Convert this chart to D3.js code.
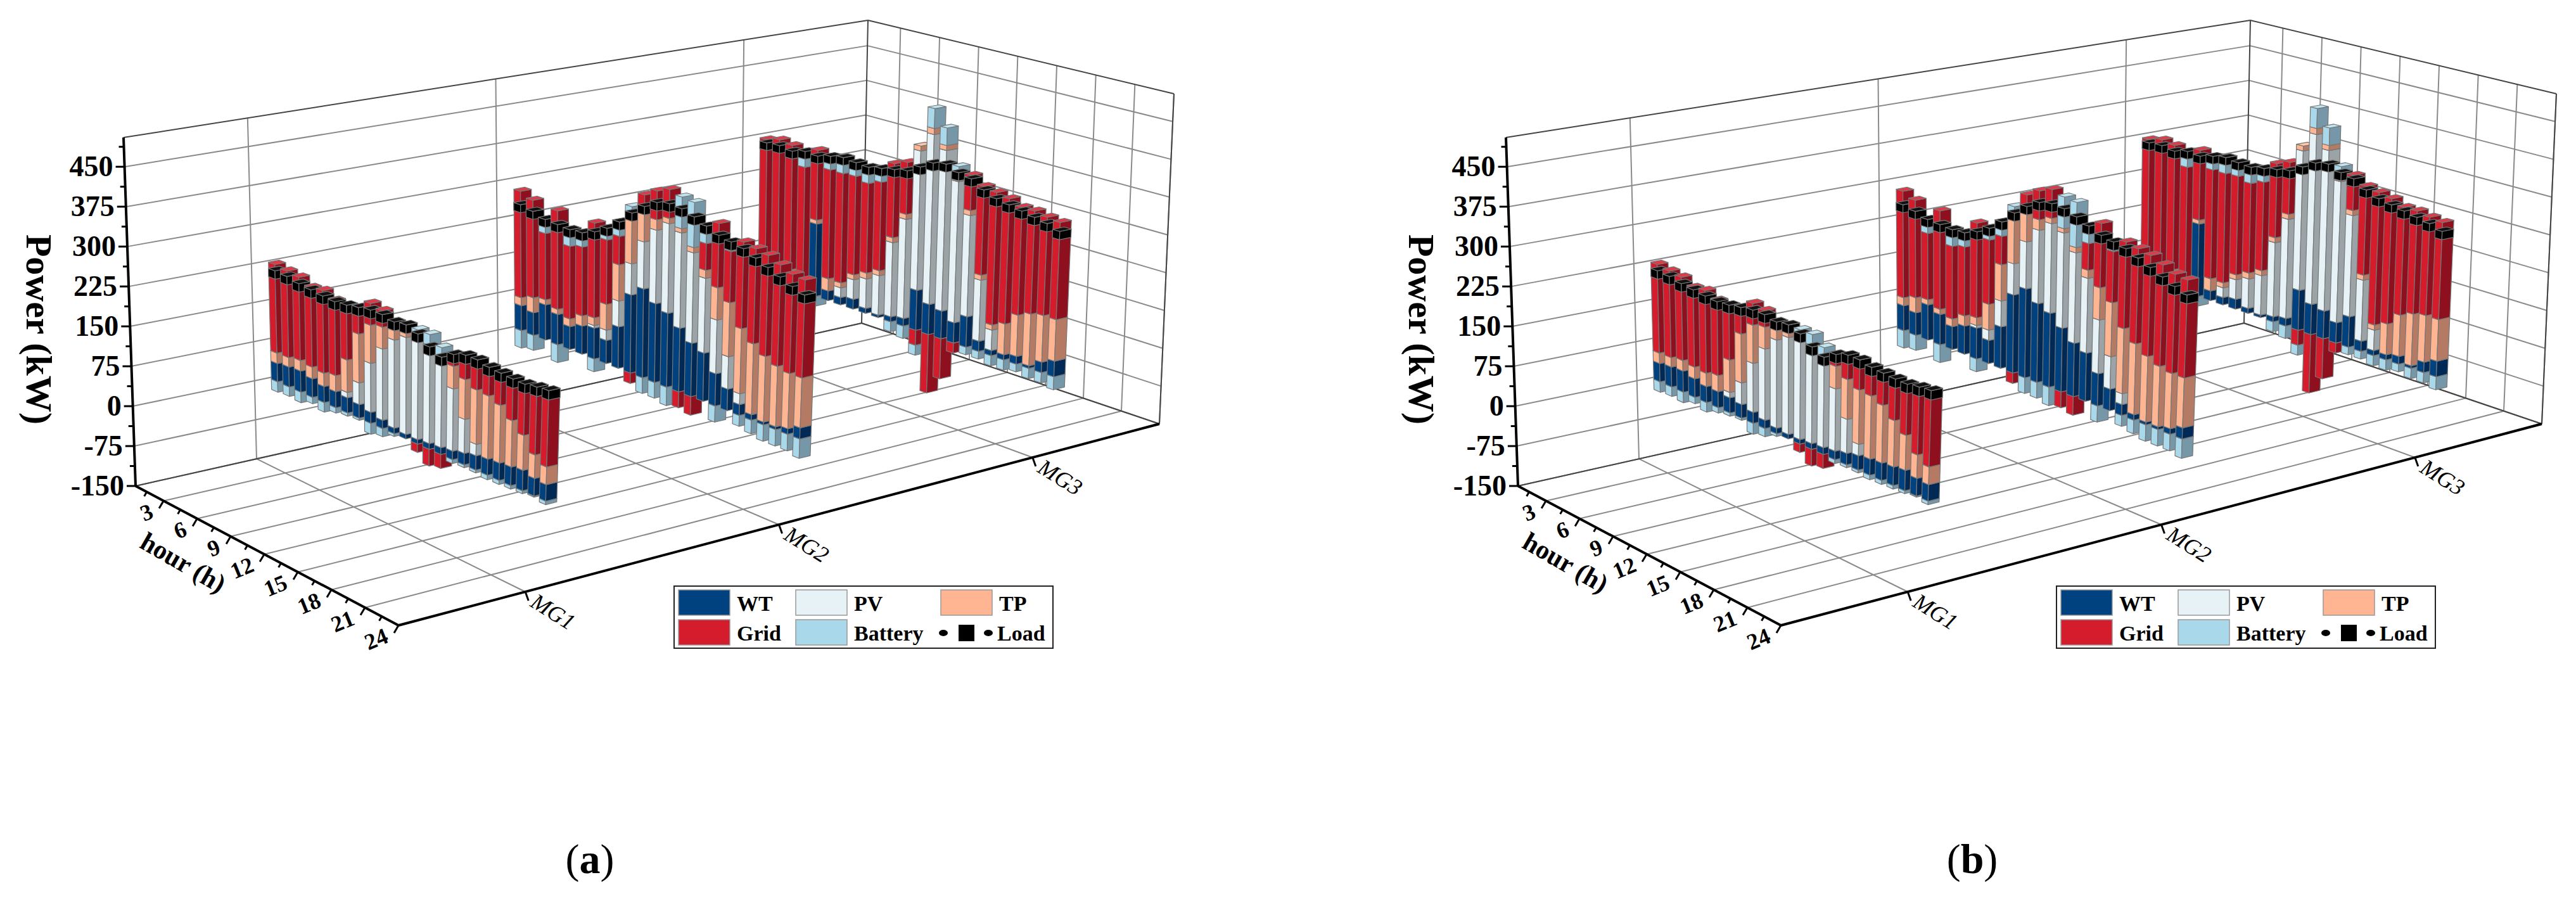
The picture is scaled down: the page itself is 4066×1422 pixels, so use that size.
<!doctype html>
<html lang="en">
  <head>
    <meta charset="UTF-8" />
    <title>3D stacked power dispatch of MG1-MG3</title>
    <script src="https://d3js.org/d3.v7.min.js"></script>
    <style>
      body { margin: 0; background: #fff; }
      text { font-family: 'Liberation Serif', 'Times New Roman', serif; }
    </style>
  </head>
  <body>
    <svg width="4066" height="1422"></svg>
    <script>
      // ---- data (kW) ----
      const hours = [1,2,3,4,5,6,7,8,9,10,11,12,13,14,15,16,17,18,19,20,21,22,23,24];
      const mgNames = ['MG1', 'MG2', 'MG3'];
      const hourTicks = [3, 6, 9, 12, 15, 18, 21, 24];
      const powerTicks = [-150, -75, 0, 75, 150, 225, 300, 375, 450];
      const panelLabels = ['a', 'b'];

      const wtMG1 = [35,38,40,35,30,30,28,25,20,15,10,8,8,10,12,15,20,25,28,30,32,35,30,28];
      const pvMG1 = [0,0,0,0,0,0,10,40,90,130,160,175,180,170,150,110,60,20,0,0,0,0,0,0];
      const tpMG1 = [20,18,20,22,25,30,60,90,70,40,20,10,5,5,10,40,70,95,110,100,80,60,40,30];
      const gridMG1 = [170,165,158,150,155,140,100,45,40,30,10,0,-15,-30,-25,20,40,50,50,55,70,85,110,128];
      const batMG1 = [-20,-18,-20,-12,-18,-10,-6,-4,-20,-15,-5,5,12,20,18,-7,-5,-5,-8,-7,-6,-5,-2,-6];
      const loadMG1 = [205,203,198,195,192,190,192,196,200,200,195,198,190,175,165,178,185,185,180,178,176,175,178,180];

      const wtMG2 = [50,45,70,60,45,55,60,45,80,150,170,150,140,120,100,90,60,40,20,10,5,5,10,20];
      const pvMG2 = [0,0,0,0,0,0,5,20,50,60,90,140,170,180,170,140,100,60,20,0,0,0,0,0];
      const tpMG2 = [16,30,10,10,15,20,15,50,70,90,60,20,10,8,10,15,60,100,120,130,120,110,100,90];
      const gridMG2 = [214,195,132,195,143,135,185,125,55,-20,30,55,55,-30,-35,50,120,95,160,175,185,185,180,177];
      const batMG2 = [-35,-30,20,-35,25,20,-25,15,20,20,-30,-30,-35,60,85,25,-30,10,-20,-25,-30,-30,-30,-35];
      const loadMG2 = [245,240,232,230,228,230,240,255,275,300,320,335,340,338,330,320,310,305,300,290,280,270,260,252];

      const wtMG3 = [5,10,8,12,150,20,15,20,10,5,10,15,80,60,55,40,60,20,10,10,15,5,20,30];
      const pvMG3 = [0,0,0,0,0,0,20,40,60,80,150,200,280,340,320,280,200,120,40,0,0,0,0,0];
      const tpMG3 = [10,10,30,8,8,25,10,10,12,10,10,10,10,12,10,10,10,10,10,60,80,100,90,80];
      const gridMG3 = [280,282,260,240,145,225,225,202,183,180,150,105,-30,-117,-80,-20,70,175,260,245,210,200,190,187];
      const batMG3 = [-15,-20,-20,25,-20,20,25,20,25,20,-20,-25,-20,40,35,20,-15,-15,-20,-20,-15,-20,-20,-25];
      const loadMG3 = [280,282,278,285,283,290,295,292,290,295,300,305,320,335,340,330,325,310,300,295,290,285,280,272];

      const seriesNames = ['WT', 'PV', 'TP', 'Grid', 'Battery'];
      const mgData = [
        { m: 1, WT: wtMG1, PV: pvMG1, TP: tpMG1, Grid: gridMG1, Battery: batMG1, Load: loadMG1 },
        { m: 2, WT: wtMG2, PV: pvMG2, TP: tpMG2, Grid: gridMG2, Battery: batMG2, Load: loadMG2 },
        { m: 3, WT: wtMG3, PV: pvMG3, TP: tpMG3, Grid: gridMG3, Battery: batMG3, Load: loadMG3 },
      ];

      // face colours: [left, right, top]
      const colors = {
        WT: ['#00427f', '#002a55', '#1a5690'],
        PV: ['#e6f2f5', '#9ba3a7', '#f2f9fa'],
        TP: ['#ffb592', '#b57a63', '#ffc6aa'],
        Grid: ['#d41c2c', '#8e0f1e', '#e03a48'],
        Battery: ['#a9d8ea', '#7597a8', '#c0e4f0'],
        Load: ['#000', '#000', '#111'],
      };

      const svg = d3.select('svg');

      const hScale = d3.scaleLinear().domain([0.5, 24]).range([0, 1]);
      const mScale = d3.scaleLinear().domain([0.5, 3.5]).range([0, 1]);
      const zScale = d3.scaleLinear().domain([-150, 505]).range([0, 1]);

      function drawPanel(dx, label) {
        const g = svg.append('g').attr('transform', `translate(${dx},0)`);

        // box corners: floor and top, [u][v]
        const F = { '00': [214, 767], '10': [629, 987], '11': [1830, 669], '01': [1360, 510] };
        const T = { '00': [195, 217], '10': [645, 360], '11': [1853, 148], '01': [1370, 32] };
        const bil = (C, u, v) => [0, 1].map(
          (k) => C['00'][k] * (1 - u) * (1 - v) + C['10'][k] * u * (1 - v) +
                 C['11'][k] * u * v + C['01'][k] * (1 - u) * v,
        );
        function proj(h, m, z) {
          const u = hScale(h), v = mScale(m), w = zScale(z);
          const a = bil(F, u, v), b = bil(T, u, v);
          return [a[0] + (b[0] - a[0]) * w, a[1] + (b[1] - a[1]) * w];
        }
        const line = (p, q) =>
          g.append('line').attr('x1', p[0]).attr('y1', p[1]).attr('x2', q[0]).attr('y2', q[1]);

        const h0 = 0.5, h1 = 24, m0 = 0.5, m1 = 3.5, z0 = -150, z1 = 505;
        const grey = '#8a8a8a';

        // back wall grid (hour = h0)
        powerTicks.forEach((z) => line(proj(h0, m0, z), proj(h0, m1, z)).attr('stroke', grey).attr('stroke-width', 2));
        [1, 2, 3].forEach((m) => line(proj(h0, m, z0), proj(h0, m, z1)).attr('stroke', grey).attr('stroke-width', 2));
        // right wall grid (MG = m1)
        powerTicks.forEach((z) => line(proj(h0, m1, z), proj(h1, m1, z)).attr('stroke', grey).attr('stroke-width', 2));
        hourTicks.forEach((h) => line(proj(h, m1, z0), proj(h, m1, z1)).attr('stroke', grey).attr('stroke-width', 2));
        // floor grid
        hourTicks.forEach((h) => line(proj(h, m0, z0), proj(h, m1, z0)).attr('stroke', grey).attr('stroke-width', 2));
        [1, 2, 3].forEach((m) => line(proj(h0, m, z0), proj(h1, m, z0)).attr('stroke', grey).attr('stroke-width', 2));
        // box edges
        [[proj(h0, m0, z1), proj(h0, m1, z1)], [proj(h0, m1, z1), proj(h1, m1, z1)],
         [proj(h0, m1, z0), proj(h0, m1, z1)], [proj(h1, m1, z0), proj(h1, m1, z1)],
         [proj(h0, m1, z0), proj(h1, m1, z0)], [proj(h0, m0, z0), proj(h0, m1, z0)]]
          .forEach(([p, q]) => line(p, q).attr('stroke', '#444').attr('stroke-width', 2));

        // bars
        const hw = 0.27, vw = 0.022, off = 0.08;
        function cuboid(h, m, za, zb, c, grow) {
          const ha = h - hw * grow, hb = h + hw * grow;
          const va = m + off - vw * grow, vb = m + off + vw * grow;
          const faces = [
            [[ha, va, za], [hb, va, za], [hb, va, zb], [ha, va, zb]],
            [[hb, va, za], [hb, vb, za], [hb, vb, zb], [hb, va, zb]],
            [[ha, va, zb], [hb, va, zb], [hb, vb, zb], [ha, vb, zb]],
          ];
          faces.forEach((f, i) => {
            g.append('polygon')
              .attr('points', f.map((p) => proj(...p).join(',')).join(' '))
              .attr('fill', c[i])
              .attr('stroke', '#777')
              .attr('stroke-width', 1.2)
              .attr('stroke-linejoin', 'round');
          });
        }
        [...mgData].reverse().forEach((d) => {
          hours.forEach((h, i) => {
            const segs = [];
            let neg = 0;
            ['Grid', 'Battery'].forEach((s) => {
              if (d[s][i] < 0) { segs.push([s, neg + d[s][i], neg]); neg += d[s][i]; }
            });
            let pos = 0;
            seriesNames.forEach((s) => {
              if (d[s][i] > 0) { segs.push([s, pos, pos + d[s][i]]); pos += d[s][i]; }
            });
            segs.sort((a, b) => a[1] - b[1]);
            segs.forEach(([s, a, b]) => cuboid(h, d.m, a, b, colors[s], 1));
            const L = d.Load[i];
            cuboid(h, d.m, L - 8, L + 8, colors.Load, 1.03);
          });
        });

        // axes
        const axis = (p, q) => line(p, q).attr('stroke', '#000').attr('stroke-width', 4);
        axis(proj(h0, m0, z0), proj(h0, m0, z1));
        axis(proj(h0, m0, z0), proj(h1, m0, z0));
        axis(proj(h1, m0, z0), proj(h1, m1, z0));

        // power ticks and labels
        d3.range(-150, 505, 37.5).forEach((z) => {
          const p = proj(h0, m0, z);
          const major = powerTicks.includes(z);
          line(p, [p[0] - (major ? 14 : 8), p[1]]).attr('stroke', '#000').attr('stroke-width', 3);
        });
        powerTicks.forEach((z) => {
          const p = proj(h0, m0, z);
          g.append('text').attr('x', p[0] - 18).attr('y', p[1] + 15)
            .attr('text-anchor', 'end').attr('font-size', 46).attr('font-weight', 'bold')
            .text(z);
        });
        g.append('text').attr('transform', 'translate(42,520) rotate(90)')
          .attr('text-anchor', 'middle').attr('font-size', 58).attr('font-weight', 'bold')
          .text('Power (kW)');

        // hour ticks and labels
        d3.range(1.5, 24.01, 1.5).forEach((h) => {
          const p = proj(h, m0, z0);
          const major = hourTicks.includes(h);
          const l = major ? 14 : 8;
          line(p, [p[0] - l * 0.5, p[1] + l * 0.85]).attr('stroke', '#000').attr('stroke-width', 3);
        });
        hourTicks.forEach((h) => {
          const p = proj(h, m0, z0);
          g.append('text')
            .attr('transform', `translate(${p[0] - 14},${p[1] + 26}) rotate(-22)`)
            .attr('text-anchor', 'end').attr('font-size', 36).attr('font-weight', 'bold')
            .text(h);
        });
        g.append('text').attr('transform', 'translate(282,900) rotate(30)')
          .attr('text-anchor', 'middle').attr('font-size', 42).attr('font-weight', 'bold')
          .text('hour (h)');

        // MG ticks and labels
        mgNames.forEach((n, i) => {
          const p = proj(h1, i + 1, z0);
          line(p, [p[0] + 5, p[1] + 14]).attr('stroke', '#000').attr('stroke-width', 3);
          g.append('text')
            .attr('transform', `translate(${p[0] + 6},${p[1] + 22}) rotate(32)`)
            .attr('font-size', 36).attr('font-style', 'italic')
            .text(n);
        });

        // legend
        const lg = g.append('g');
        lg.append('rect').attr('x', 1064).attr('y', 925).attr('width', 598).attr('height', 98)
          .attr('fill', '#fff').attr('stroke', '#222').attr('stroke-width', 2);
        const items = [
          ['WT', 1071, 931], ['PV', 1256, 931], ['TP', 1485, 931],
          ['Grid', 1071, 978], ['Battery', 1256, 978],
        ];
        items.forEach(([s, x, y]) => {
          lg.append('rect').attr('x', x).attr('y', y).attr('width', 81).attr('height', 40)
            .attr('fill', colors[s][0]).attr('stroke', '#999').attr('stroke-width', 1.5);
          lg.append('text').attr('x', x + 92).attr('y', y + 33)
            .attr('font-size', 34).attr('font-weight', 'bold').text(s);
        });
        lg.append('ellipse').attr('cx', 1489).attr('cy', 999).attr('rx', 7).attr('ry', 5).attr('fill', '#000');
        lg.append('rect').attr('x', 1513).attr('y', 986).attr('width', 25).attr('height', 26).attr('fill', '#000');
        lg.append('ellipse').attr('cx', 1560).attr('cy', 999).attr('rx', 7).attr('ry', 5).attr('fill', '#000');
        lg.append('text').attr('x', 1574).attr('y', 1011)
          .attr('font-size', 34).attr('font-weight', 'bold').text('Load');

        // panel label
        const pl = g.append('text').attr('x', 931).attr('y', 1378).attr('text-anchor', 'middle')
          .attr('font-size', 66);
        pl.append('tspan').text('(');
        pl.append('tspan').attr('font-weight', 'bold').text(label);
        pl.append('tspan').text(')');
      }

      drawPanel(0, panelLabels[0]);
      drawPanel(2182, panelLabels[1]);
    </script>
  </body>
</html>
